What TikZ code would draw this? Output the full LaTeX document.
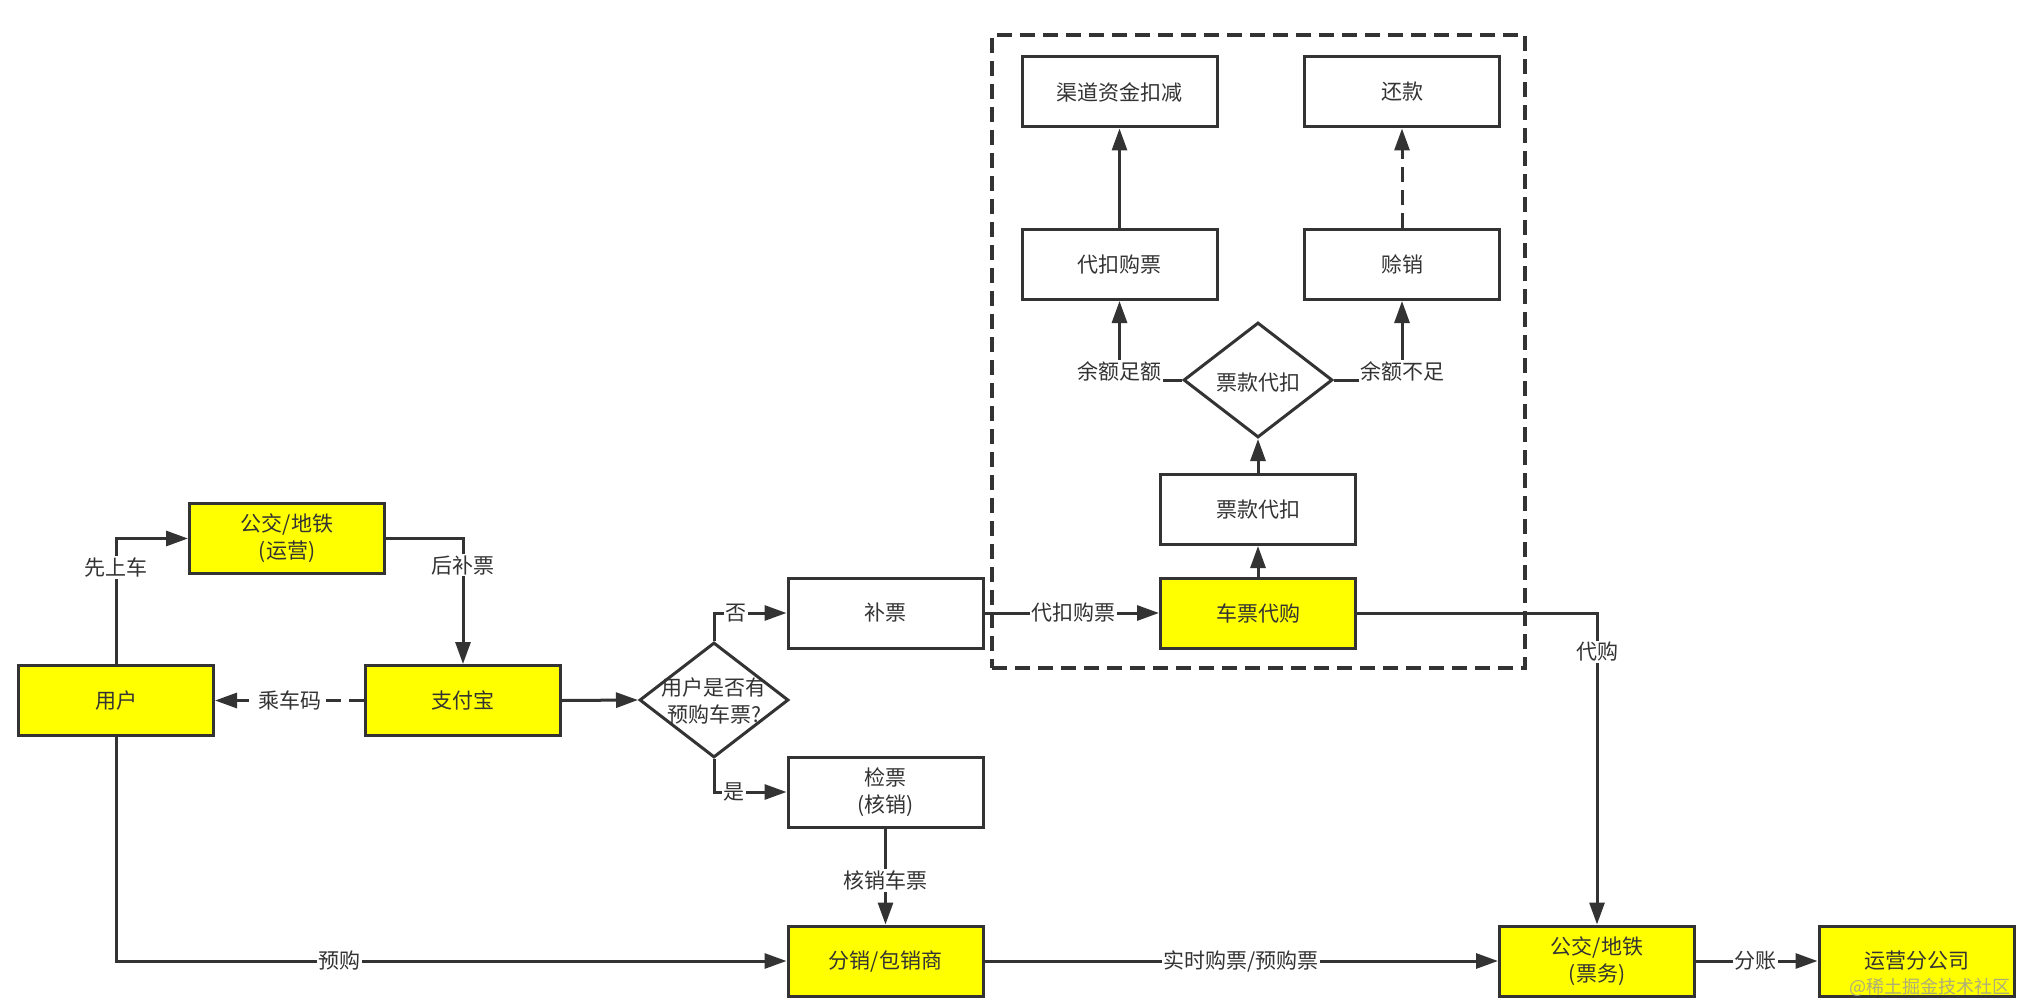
\documentclass[tikz,border=0pt]{standalone}
\usepackage{fontspec}
\newfontfamily\cjk{Noto Sans CJK SC}
\usetikzlibrary{arrows.meta,shapes.geometric}
\definecolor{ink}{HTML}{333333}
\definecolor{boxyellow}{HTML}{FFFF00}
\begin{document}
\begin{tikzpicture}[x=1pt,y=-1pt,
  every node/.style={font=\cjk\fontsize{21}{27}\selectfont, text=ink},
  box/.style={draw=ink, line width=3pt, fill=white, minimum width=195pt, minimum height=70pt, inner sep=0pt, align=center},
  ybox/.style={box, fill=boxyellow},
  dia/.style={draw=ink, line width=3pt, diamond, fill=white, minimum width=149pt, minimum height=115pt, inner sep=0pt},
  txt/.style={inner sep=0pt, align=center},
  conn/.style={draw=ink, line width=3pt},
  arr/.style={conn, -{Triangle[length=22pt,width=15pt]}},
  dsh/.style={dash pattern=on 15pt off 8pt},
  lbl/.style={fill=white, inner sep=1.5pt},
  frame/.style={draw=ink, line width=3.2pt, dsh, minimum width=533pt, minimum height=633pt, inner sep=0pt}
]
\fill[white] (0,0) rectangle (2019,1003);
\useasboundingbox (0,0) rectangle (2019,1003);

% group frame
\node[frame] (grp) at (1258.5,351.5) {};

% nodes
\node[ybox] (yunying) at (287,538.5) {公交/地铁\\(运营)};
\node[ybox] (user) at (116,700.5) {用户};
\node[ybox] (zfb) at (463,700.5) {支付宝};
\node[dia] (d1) at (714,700) {};
\node[txt] (d1t) at (714,701) {用户是否有\\预购车票?};
\node[box] (bupiao) at (885.5,613) {补票};
\node[box] (jianpiao) at (885.5,792) {检票\\(核销)};
\node[ybox] (fenxiao) at (885.5,961) {分销/包销商};
\node[ybox] (daigou) at (1258,613) {车票代购};
\node[box] (kouk) at (1258,509.5) {票款代扣};
\node[dia] (d2) at (1258,380) {};
\node[txt] (d2t) at (1258,383) {票款代扣};
\node[box] (daikou) at (1119.5,264.5) {代扣购票};
\node[box] (shexiao) at (1402,264.5) {赊销};
\node[box] (qudao) at (1119.5,92) {渠道资金扣减};
\node[box] (huankuan) at (1402,92) {还款};
\node[ybox] (piaowu) at (1597,961) {公交/地铁\\(票务)};
\node[ybox] (fgs) at (1916.5,961) {运营分公司};

% connectors
\draw[arr] (user.north) |- node[lbl,pos=0.385]{先上车} (yunying.west);
\draw[arr] (yunying.east) -| node[lbl,pos=0.606]{后补票} (zfb.north);
\draw[arr,dsh] (zfb.west) -- node[lbl]{乘车码} (user.east);
\draw[arr] (zfb.east) -- (d1.west);
\draw[arr] (d1.north) |- node[lbl,pos=0.655]{否} (bupiao.west);
\draw[arr] (d1.south) |- node[lbl,pos=0.64]{是} (jianpiao.west);
\draw[arr] (jianpiao.south) -- node[lbl,pos=0.54]{核销车票} (fenxiao.north);
\draw[arr] (user.south) |- node[lbl,pos=0.667]{预购} (fenxiao.west);
\draw[arr] (fenxiao.east) -- node[lbl]{实时购票/预购票} (piaowu.west);
\draw[arr] (piaowu.east) -- node[lbl,pos=0.49]{分账} (fgs.west);
\draw[arr] (bupiao.east) -- node[lbl,pos=0.51]{代扣购票} (daigou.west);
\draw[arr] (daigou.east) -| node[lbl,pos=0.5625]{代购} (piaowu.north);
\draw[arr] (daigou.north) -- (kouk.south);
\draw[arr] (kouk.north) -- (d2.south);
\draw[arr] (d2.west) -| node[lbl,pos=0.5,yshift=9pt]{余额足额} (daikou.south);
\draw[arr] (d2.east) -| node[lbl,pos=0.5,yshift=9pt]{余额不足} (shexiao.south);
\draw[arr] (daikou.north) -- (qudao.south);
\draw[arr,dsh] (shexiao.north) -- (huankuan.south);

% watermark
\node[txt, font=\cjk\fontsize{18}{20}\selectfont, text=black!40, opacity=0.8] (wm) at (1930,987) {@稀土掘金技术社区};
\end{tikzpicture}
\end{document}
